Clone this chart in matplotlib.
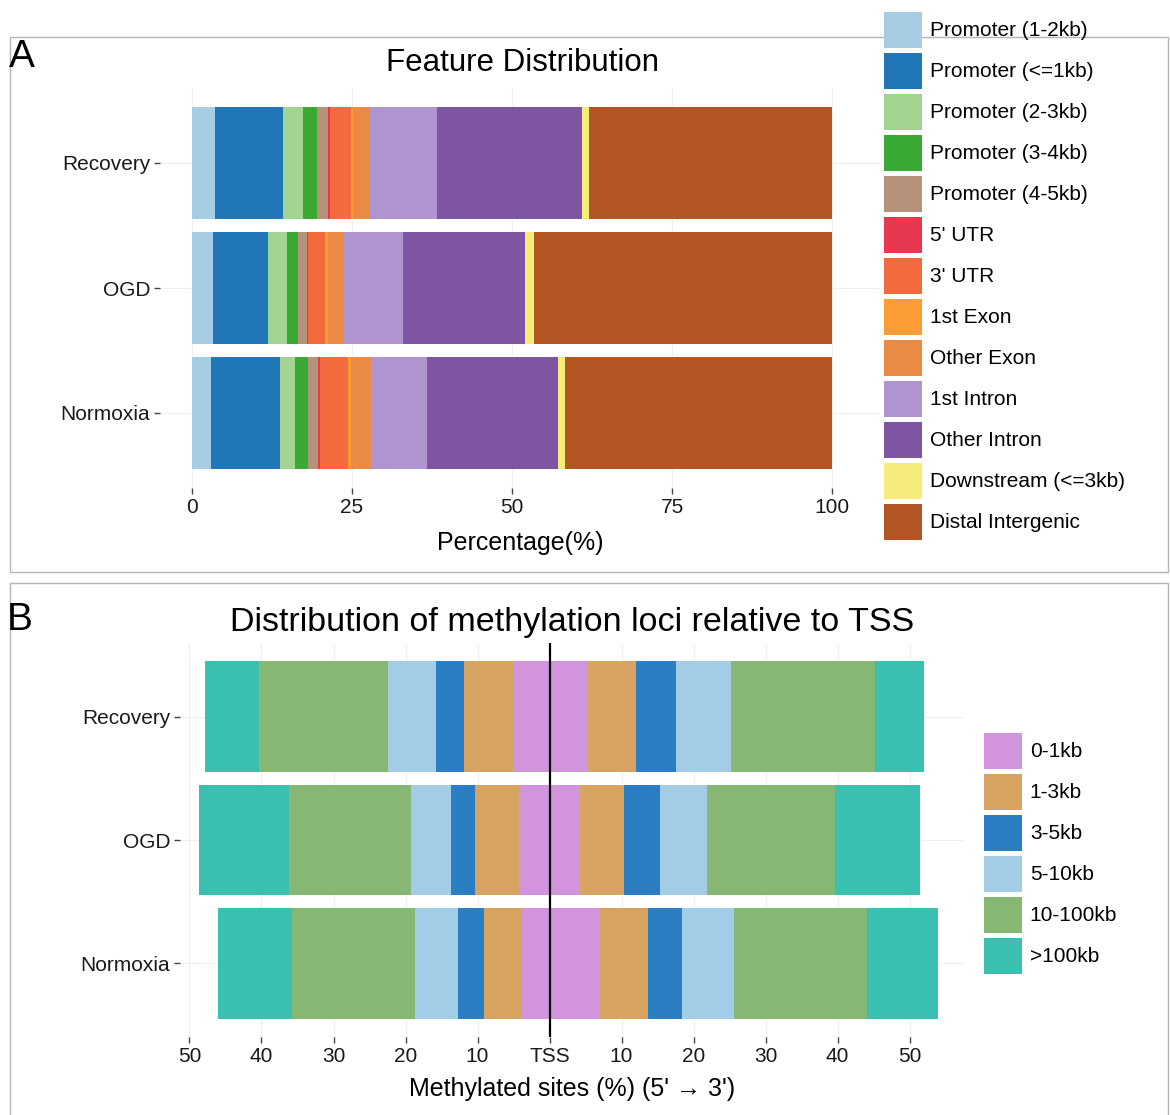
import matplotlib
matplotlib.use("Agg")
import matplotlib.pyplot as plt
from matplotlib.patches import Patch, Rectangle

plt.rcParams['font.family'] = ['Liberation Sans', 'DejaVu Sans']

W, H = 1170, 1115

samples = ['Normoxia', 'OGD', 'Recovery']

# genomic feature annotation, percent of peaks
feature_names = ['Promoter (1-2kb)', 'Promoter (<=1kb)', 'Promoter (2-3kb)',
                 'Promoter (3-4kb)', 'Promoter (4-5kb)', "5' UTR", "3' UTR",
                 '1st Exon', 'Other Exon', '1st Intron', 'Other Intron',
                 'Downstream (<=3kb)', 'Distal Intergenic']
feature_colors = ['#a6cde4', '#2176b8', '#a1d490', '#3aaa35', '#b5937a',
                  '#e8384f', '#f36a3f', '#fb9c35', '#eb8a45', '#b094d0',
                  '#7d55a0', '#f5ec7c', '#b45524']
normoxia_feat = [2.9, 10.85, 2.35, 2.0, 1.6, 0.3, 4.4, 0.4, 3.1, 8.8, 20.5, 1.1, 41.7]
ogd_feat = [3.3, 8.6, 2.9, 1.7, 1.5, 0.2, 2.6, 0.4, 2.6, 9.2, 19.0, 1.4, 46.6]
recovery_feat = [3.6, 10.6, 3.2, 2.2, 1.6, 0.3, 3.4, 0.3, 2.6, 10.5, 22.6, 1.2, 37.9]

# distance to TSS, upstream (5') and downstream (3') percentages
tss_bins = ['0-1kb', '1-3kb', '3-5kb', '5-10kb', '10-100kb', '>100kb']
tss_colors = ['#d394de', '#d6a460', '#2b7ec2', '#a3cce6', '#86b873', '#3bbfb0']
normoxia_up = [3.8, 5.3, 3.6, 6.0, 17.1, 10.2]
normoxia_down = [7.0, 6.7, 4.7, 7.2, 18.5, 9.8]
ogd_up = [4.3, 6.0, 3.4, 5.6, 16.9, 12.5]
ogd_down = [4.3, 6.0, 5.0, 6.6, 17.7, 11.8]
recovery_up = [5.1, 6.8, 3.9, 6.6, 18.0, 7.5]
recovery_down = [5.4, 6.6, 5.6, 7.6, 20.0, 6.8]

pct_ticks = [0, 25, 50, 75, 100]
tss_ticks = [-50, -40, -30, -20, -10, 0, 10, 20, 30, 40, 50]
tss_ticklabels = ['50', '40', '30', '20', '10', 'TSS', '10', '20', '30', '40', '50']


def fx(px):
    return px / W


def fy(py):
    return 1 - py / H


def box(left, top, right, bottom):
    return [fx(left), fy(bottom), fx(right) - fx(left), fy(top) - fy(bottom)]


def style_axis(ax):
    for s in ax.spines.values():
        s.set_visible(False)
    ax.grid(color='#efefef', lw=0.8)
    ax.set_axisbelow(True)
    ax.tick_params(length=4, width=1, color='#444444', labelsize=15,
                   labelcolor='#1a1a1a', pad=3)
    ax.set_ylim(-0.6, 2.6)
    ax.set_yticks(range(len(samples)))
    ax.set_yticklabels(samples)


def swatch_legend(names, colors, left, top):
    fig.legend(handles=[Patch(color=c, lw=0) for c in colors], labels=names,
               loc='upper left', bbox_to_anchor=(fx(left), fy(top)), frameon=False,
               fontsize=15, handlelength=1.82, handleheight=2.28, labelspacing=0.24,
               handletextpad=0.38, borderpad=0, borderaxespad=0)


fig = plt.figure(figsize=(W / 100, H / 100), dpi=100)

# panel frames
for top, bottom in [(37, 572), (583, 1130)]:
    fig.patches.append(Rectangle((fx(10), fy(bottom)), fx(1168) - fx(10),
                                 fy(top) - fy(bottom), transform=fig.transFigure,
                                 fill=False, ec='#b4b4b4', lw=1, zorder=0))

# A: feature distribution
axA = fig.add_axes(box(160, 88, 880, 488))
style_axis(axA)
feat_rows = [normoxia_feat, ogd_feat, recovery_feat]
for y, row in enumerate(feat_rows):
    left = 0
    for val, col in zip(row, feature_colors):
        axA.barh(y, val, left=left, height=0.9, color=col, lw=0)
        left += val
axA.set_xlim(-5, 107.5)
axA.set_xticks(pct_ticks)
axA.set_xlabel('Percentage(%)', fontsize=18, labelpad=10)
fig.text(fx(522), fy(63), 'Feature Distribution', ha='center', va='center', fontsize=22.5)
fig.text(fx(22), fy(57), 'A', ha='center', va='center', fontsize=28)
swatch_legend(feature_names, feature_colors, 884, 12)

# B: distance to TSS
axB = fig.add_axes(box(180, 643, 964, 1037))
style_axis(axB)
up_rows = [normoxia_up, ogd_up, recovery_up]
down_rows = [normoxia_down, ogd_down, recovery_down]
for y in range(len(samples)):
    cum_up, cum_down = 0, 0
    for up, down, col in zip(up_rows[y], down_rows[y], tss_colors):
        axB.barh(y, -up, left=-cum_up, height=0.9, color=col, lw=0)
        axB.barh(y, down, left=cum_down, height=0.9, color=col, lw=0)
        cum_up += up
        cum_down += down
axB.axvline(0, color='black', lw=1.6, zorder=5)
axB.set_xlim((180 - 549.5) / 7.2, (964 - 549.5) / 7.2)
axB.set_xticks(tss_ticks)
axB.set_xticklabels(tss_ticklabels)
axB.set_xlabel("Methylated sites (%) (5' \u2192 3')", fontsize=18, labelpad=8)
fig.text(fx(572), fy(623), 'Distribution of methylation loci relative to TSS',
         ha='center', va='center', fontsize=24.5)
fig.text(fx(20), fy(620), 'B', ha='center', va='center', fontsize=28)
swatch_legend(tss_bins, tss_colors, 984, 733)

fig.savefig('out.png', dpi=100, facecolor='white')
